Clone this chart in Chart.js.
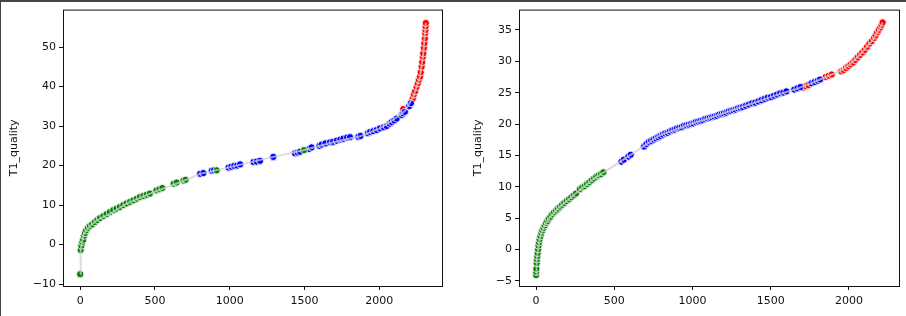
<!DOCTYPE html>
<html>
<head>
<meta charset="utf-8">
<script src="https://cdn.jsdelivr.net/npm/chart.js@4.4.0/dist/chart.umd.min.js"></script>
<style>
  html, body { margin: 0; padding: 0; background: #fff; }
  #wrap { position: relative; width: 906px; height: 316px; overflow: hidden; }
  #frameTop { position: absolute; left: 0; top: 0; width: 906px; height: 2px; background: #444; }
  #frameLeft { position: absolute; left: 0; top: 0; width: 1px; height: 316px; background: #444; }
  canvas { position: absolute; top: 0; }
</style>
</head>
<body>
<div id="wrap">
  <canvas id="left" width="453" height="316" style="left:0"></canvas>
  <canvas id="right" width="453" height="316" style="left:453px"></canvas>
  <div id="frameTop"></div>
  <div id="frameLeft"></div>
</div>
<script>
// left panel: sorted curve + coloured scatter
const leftLine = [[0,-7.5],[3,-1.4],[8,-0.3],[22,2.6],[40,3.6],[65,4.7],[112,6.2],[200,7.8],[312,10.4],[468,12.9],
  [557,14.2],[690,16.1],[802,17.9],[1003,19.6],[1292,22.2],[1493,23.9],[1693,25.9],[1872,27.4],[2005,29.4],
  [2094,31.6],[2172,33.8],[2228,37.4],[2273,42.5],[2295,48.4],[2312,56.1]];
const leftGreen = [[0,-7.5],[3,-1.4],[8,-0.3],[14,0.6],[20,1.2],[26,2.2],[32,2.9],[40,3.6],[52,4.2],[65,4.7],
  [80,5.1],[98,5.7],[115,6.2],[132,6.7],[155,7.2],[176,7.7],[198,8.2],[221,8.7],[243,9.1],[265,9.5],[288,10.0],
  [310,10.4],[333,10.8],[355,11.2],[378,11.6],[399,12.0],[422,12.3],[444,12.6],[466,12.9],[510,13.7],[530,14.0],
  [550,14.3],[625,15.4],[645,15.7],[690,16.2],[705,16.4],[913,18.8],[1497,23.9]];
const leftBlue = [[802,17.9],[824,18.1],[880,18.7],[895,18.8],[992,19.5],[1010,19.7],[1030,19.9],[1050,20.0],
  [1070,20.3],[1159,20.9],[1180,21.0],[1203,21.2],[1292,22.2],[1437,23.1],[1455,23.3],[1470,23.5],[1530,24.2],
  [1548,24.6],[1600,25.0],[1615,25.3],[1640,25.6],[1671,25.9],[1690,26.0],[1716,26.3],[1740,26.6],[1760,26.8],
  [1785,27.1],[1805,27.2],[1860,27.3],[1875,27.5],[1925,28.2],[1939,28.5],[1960,28.7],[1983,29.0],[2005,29.4],
  [2030,29.7],[2050,30.0],[2070,30.6],[2083,31.0],[2100,31.4],[2117,31.9],[2150,32.8],[2161,33.2],[2172,33.6],
  [2200,35.0],[2212,35.8]];
const leftRed = [[2161,34.3],[2215,36.2],[2225,37.0],[2232,38.0],[2240,38.8],[2250,39.9],[2258,40.8],[2265,41.7],
  [2273,42.5],[2278,43.6],[2284,45.0],[2288,46.2],[2292,47.5],[2295,48.4],[2299,49.8],[2302,51.0],[2306,52.2],
  [2308,53.5],[2310,54.3],[2311,55.2],[2312,56.1]];
const leftYTicks = [-10, 0, 10, 20, 30, 40, 50];

// right panel
const rightLine = [[0,-4.1],[2,-3.2],[5,-1.8],[9,-0.8],[14,0.3],[22,1.5],[34,2.6],[50,3.6],[66,4.3],[85,5.0],
  [109,5.7],[135,6.4],[162,7.0],[190,7.6],[220,8.2],[262,9.1],[316,10.2],[369,11.3],[433,12.3],[550,14.2],
  [600,15.0],[690,16.5],[790,18.2],[880,19.0],[985,20.0],[1090,20.8],[1195,21.7],[1300,22.6],[1410,23.5],
  [1535,24.6],[1665,25.6],[1750,26.4],[1815,27.1],[1870,27.7],[1940,28.4],[2005,29.5],[2060,30.8],[2110,32.2],
  [2155,33.5],[2180,34.6],[2200,35.4],[2215,36.2]];
const rightGreen = [[0,-4.1],[1,-3.6],[2,-3.1],[4,-2.2],[6,-1.6],[8,-1.1],[10,-0.6],[13,0.0],[16,0.6],[19,1.1],
  [23,1.6],[28,2.1],[34,2.6],[40,3.0],[47,3.4],[55,3.8],[63,4.2],[72,4.5],[82,4.9],[92,5.2],[103,5.6],[115,5.9],
  [128,6.2],[140,6.5],[153,6.8],[166,7.1],[180,7.4],[195,7.7],[210,8.0],[225,8.3],[240,8.6],[255,8.9],[280,9.6],
  [295,9.9],[310,10.1],[325,10.4],[340,10.7],[355,11.0],[370,11.3],[385,11.6],[400,11.8],[415,12.0],[430,12.3]];
const rightBlue = [[545,14.0],[560,14.3],[590,14.8],[605,15.1],[690,16.4],[705,16.8],[720,17.1],[735,17.3],
  [750,17.5],[765,17.7],[780,17.9],[795,18.1],[810,18.3],[825,18.5],[840,18.6],[855,18.8],[870,19.0],[885,19.1],
  [900,19.3],[915,19.4],[930,19.5],[945,19.7],[960,19.8],[975,19.9],[990,20.0],[1005,20.1],[1020,20.3],[1035,20.4],
  [1050,20.5],[1065,20.6],[1080,20.8],[1095,20.9],[1110,21.0],[1125,21.1],[1140,21.2],[1155,21.3],[1170,21.5],
  [1185,21.6],[1200,21.7],[1215,21.8],[1230,22.0],[1245,22.1],[1260,22.2],[1275,22.3],[1290,22.5],[1305,22.6],
  [1320,22.7],[1340,22.9],[1360,23.1],[1380,23.3],[1400,23.4],[1420,23.6],[1440,23.8],[1460,24.0],[1480,24.2],
  [1500,24.3],[1520,24.5],[1540,24.7],[1560,24.9],[1580,25.0],[1600,25.2],[1650,25.5],[1670,25.7],[1690,25.9],
  [1760,26.5],[1780,26.7],[1800,26.9],[1815,27.1]];
const rightRed = [[1705,25.8],[1720,26.0],[1740,26.2],[1850,27.5],[1870,27.7],[1890,27.9],[1950,28.4],[1965,28.6],
  [1980,28.9],[1995,29.2],[2010,29.5],[2025,29.8],[2040,30.2],[2055,30.6],[2070,31.0],[2085,31.4],[2100,31.8],
  [2115,32.3],[2130,32.8],[2145,33.2],[2160,33.7],[2170,34.1],[2180,34.6],[2190,35.0],[2200,35.4],[2208,35.8],
  [2215,36.2]];
const rightYTicks = [-5, 0, 5, 10, 15, 20, 25, 30, 35];

const xTicks = [0, 500, 1000, 1500, 2000];
const yLabel = 'T1_quality';

const FONT = { family: 'DejaVu Sans', size: 11 };

function toPts(arr) {
  return arr.map(p => ({ x: p[0], y: p[1] }));
}

// axes frame (matplotlib style box)
const boxPlugin = {
  id: 'box',
  afterDatasetsDraw(chart) {
    const { ctx, chartArea: a } = chart;
    ctx.save();
    ctx.strokeStyle = '#111';
    ctx.lineWidth = 1;
    ctx.strokeRect(a.left + 0.5, a.top + 0.5, a.right - a.left - 1, a.bottom - a.top);
    ctx.restore();
  }
};

function scatterSet(arr, color) {
  return {
    type: 'scatter',
    data: toPts(arr),
    pointRadius: 3.6,
    pointBorderWidth: 0.8,
    pointBorderColor: '#fff',
    pointBackgroundColor: color,
    order: 1
  };
}

function makeChart(id, line, green, blue, red, xr, yr, yTicks, yWidth, titlePad, rightPad) {
  const ctx = document.getElementById(id).getContext('2d');
  return new Chart(ctx, {
    type: 'scatter',
    data: {
      datasets: [
        {
          type: 'line',
          data: toPts(line),
          showLine: true,
          borderColor: 'rgba(210,210,210,0.75)',
          borderWidth: 2,
          pointRadius: 0,
          fill: false,
          tension: 0,
          order: 0
        },
        scatterSet(green, '#008000'),
        scatterSet(blue, '#0000ff'),
        scatterSet(red, '#ff0000')
      ]
    },
    options: {
      responsive: false,
      animation: false,
      devicePixelRatio: 1,
      layout: { padding: { left: 0, top: 9, right: rightPad, bottom: 0 } },
      plugins: { legend: { display: false }, tooltip: { enabled: false } },
      scales: {
        x: {
          type: 'linear',
          min: xr[0],
          max: xr[1],
          afterBuildTicks: s => { s.ticks = xTicks.map(v => ({ value: v })); },
          afterFit: s => { s.height = 30; },
          grid: { drawOnChartArea: false, drawTicks: true, tickLength: 4, tickColor: '#111', tickWidth: 1 },
          border: { display: false },
          ticks: { font: FONT, color: '#111', padding: 5, maxRotation: 0, callback: v => String(v) }
        },
        y: {
          type: 'linear',
          min: yr[0],
          max: yr[1],
          afterBuildTicks: s => { s.ticks = yTicks.map(v => ({ value: v })); },
          afterFit: s => { s.width = yWidth; },
          grid: { drawOnChartArea: false, drawTicks: true, tickLength: 4, tickColor: '#111', tickWidth: 1 },
          border: { display: false },
          ticks: {
            font: FONT, color: '#111', padding: 3,
            callback: v => String(v).replace('-', '\u2212')
          },
          title: { display: true, text: yLabel, font: FONT, color: '#111', padding: { top: titlePad, bottom: 0 } }
        }
      }
    },
    plugins: [boxPlugin]
  });
}

makeChart('left', leftLine, leftGreen, leftBlue, leftRed, [-115, 2427], [-10.5, 59.5], leftYTicks, 63, 8, 10);
makeChart('right', rightLine, rightGreen, rightBlue, rightRed, [-109, 2326], [-5.84, 38.25], rightYTicks, 66, 19, 6);
</script>
</body>
</html>
